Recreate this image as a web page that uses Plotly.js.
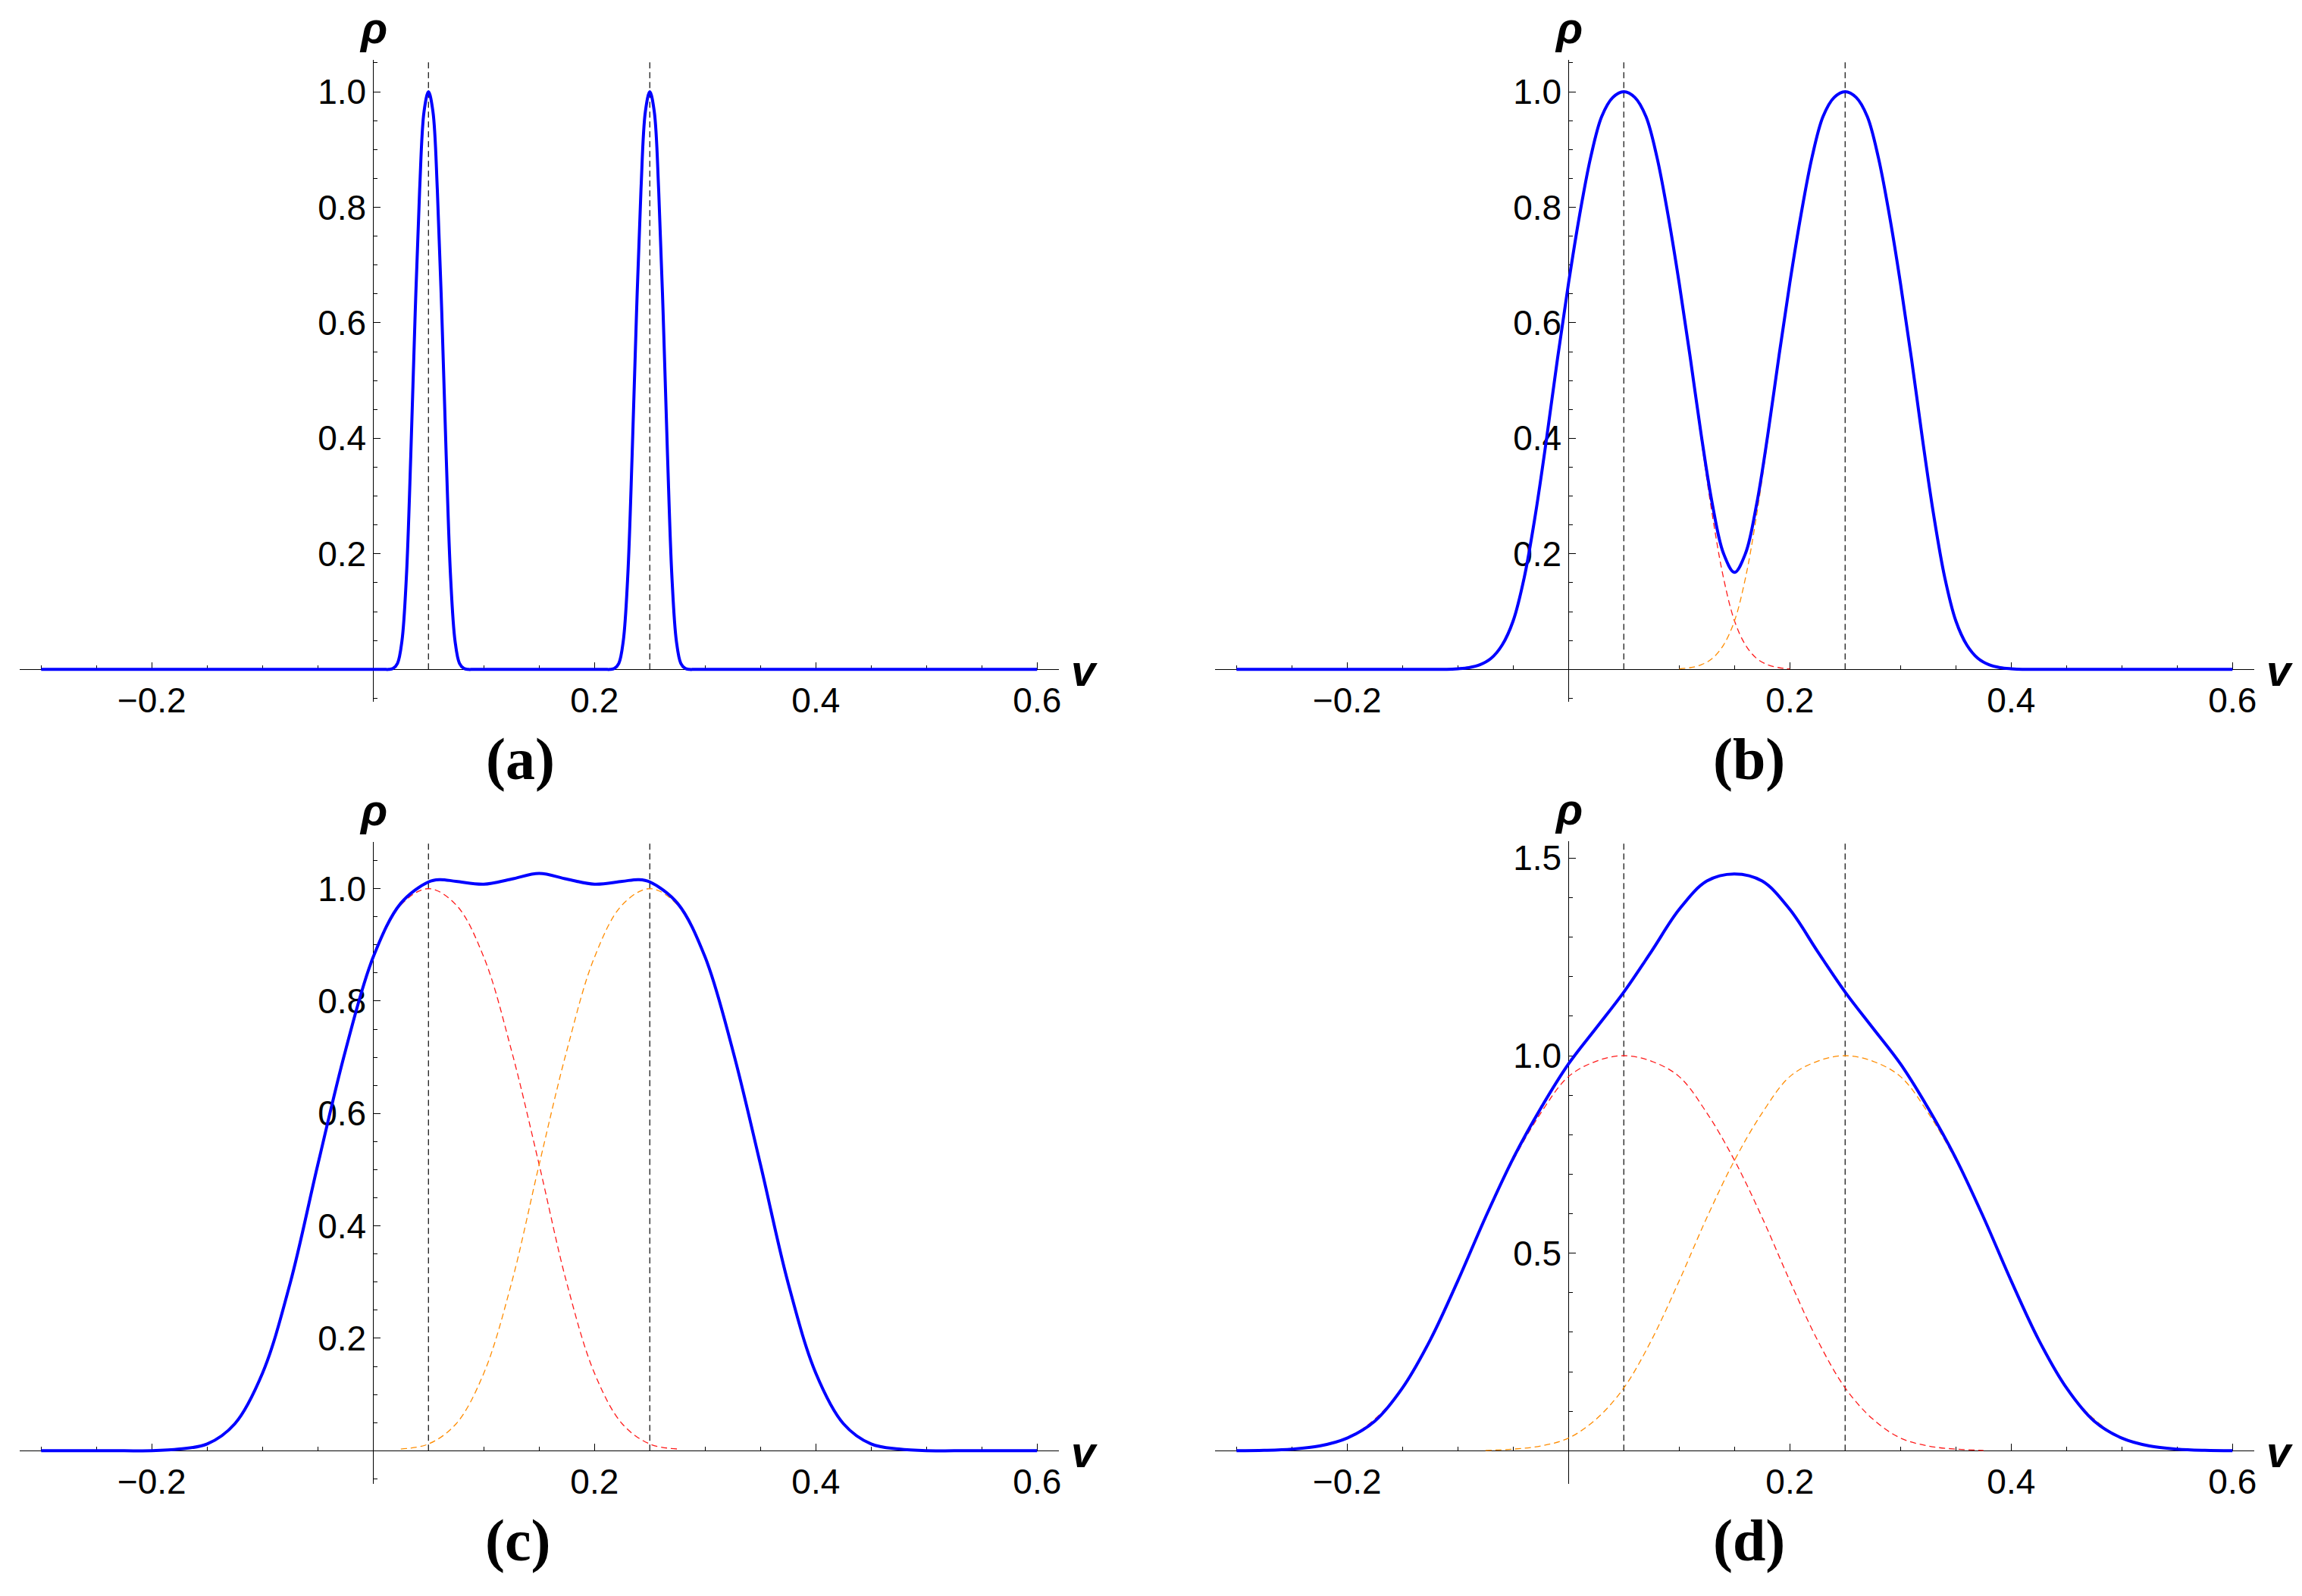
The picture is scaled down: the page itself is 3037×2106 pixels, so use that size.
<!DOCTYPE html>
<html>
<head>
<meta charset="utf-8">
<script src="https://cdn.plot.ly/plotly-3.0.1.min.js"></script>
<style>html,body{margin:0;padding:0;background:#fff;}#chart{width:3037px;height:2106px;}</style>
</head>
<body>
<div id="chart"></div>
<script>
// ---------------- data ----------------
const centers = [0.05, 0.25];
const panelLabels = ["(a)", "(b)", "(c)", "(d)"];
const xTickVals = [-0.2, 0.2, 0.4, 0.6];
const xTickText = ["\u22120.2", "0.2", "0.4", "0.6"];
const xMinorVals = [-0.3, -0.25, -0.15, -0.1, -0.05, 0.05, 0.1, 0.15, 0.25, 0.3, 0.35, 0.45, 0.5, 0.55];
const yTickVals = [0.2, 0.4, 0.6, 0.8, 1.0];
const yTickText = ["0.2", "0.4", "0.6", "0.8", "1.0"];
const yMinorVals = [-0.05, 0.05, 0.1, 0.15, 0.25, 0.3, 0.35, 0.45, 0.5, 0.55, 0.65, 0.7, 0.75, 0.85, 0.9, 0.95, 1.05];
const yTickValsD = [0.5, 1.0, 1.5];
const yTickTextD = ["0.5", "1.0", "1.5"];
const yMinorValsD = [0.1, 0.2, 0.3, 0.4, 0.6, 0.7, 0.8, 0.9, 1.1, 1.2, 1.3, 1.4];

// panel (a): total density
const xA = [-0.3, -0.2, -0.1, -0.05, 0.0, 0.01, 0.014, 0.018, 0.022, 0.026, 0.03, 0.034, 0.038, 0.042, 0.046, 0.05, 0.054, 0.058, 0.062, 0.066, 0.07, 0.074, 0.078, 0.082, 0.086, 0.09, 0.1, 0.125, 0.15, 0.175, 0.2, 0.21, 0.214, 0.218, 0.222, 0.226, 0.23, 0.234, 0.238, 0.242, 0.246, 0.25, 0.254, 0.258, 0.262, 0.266, 0.27, 0.274, 0.278, 0.282, 0.286, 0.29, 0.3, 0.35, 0.4, 0.5, 0.6];
const yA = [0, 0, 0, 0, 0, 0, 0, 0.0016, 0.0104, 0.049, 0.159, 0.37, 0.618, 0.83, 0.966, 1.0, 0.966, 0.83, 0.618, 0.37, 0.159, 0.049, 0.0104, 0.0016, 0, 0, 0, 0, 0, 0, 0, 0, 0, 0.0016, 0.0104, 0.049, 0.159, 0.37, 0.618, 0.83, 0.966, 1.0, 0.966, 0.83, 0.618, 0.37, 0.159, 0.049, 0.0104, 0.0016, 0, 0, 0, 0, 0, 0, 0];

// panel (b)
const xB = [-0.3, -0.2, -0.15, -0.12, -0.11, -0.1, -0.09, -0.08, -0.07, -0.06, -0.05, -0.04, -0.03, -0.02, -0.01, 0.0, 0.01, 0.02, 0.03, 0.04, 0.05, 0.06, 0.07, 0.08, 0.09, 0.1, 0.11, 0.12, 0.13, 0.14, 0.15, 0.16, 0.17, 0.18, 0.19, 0.2, 0.21, 0.22, 0.23, 0.24, 0.25, 0.26, 0.27, 0.28, 0.29, 0.3, 0.31, 0.32, 0.33, 0.34, 0.35, 0.36, 0.37, 0.38, 0.39, 0.4, 0.41, 0.42, 0.45, 0.5, 0.6];
const yB = [0, 0, 0, 0, 0, 0.001, 0.003, 0.008, 0.019, 0.042, 0.084, 0.159, 0.267, 0.397, 0.537, 0.668, 0.786, 0.886, 0.957, 0.99, 1.0, 0.99, 0.957, 0.886, 0.786, 0.669, 0.54, 0.405, 0.286, 0.201, 0.168, 0.201, 0.286, 0.405, 0.54, 0.669, 0.786, 0.886, 0.957, 0.99, 1.0, 0.99, 0.957, 0.886, 0.786, 0.668, 0.537, 0.397, 0.267, 0.159, 0.084, 0.042, 0.019, 0.008, 0.003, 0.001, 0, 0, 0, 0, 0];
const xRedB = [-0.1, -0.09, -0.08, -0.07, -0.06, -0.05, -0.04, -0.03, -0.02, -0.01, 0.0, 0.01, 0.02, 0.03, 0.04, 0.05, 0.06, 0.07, 0.08, 0.09, 0.1, 0.11, 0.12, 0.13, 0.14, 0.15, 0.16, 0.17, 0.18, 0.19, 0.2];
const yRedB = [0.001, 0.003, 0.008, 0.019, 0.042, 0.084, 0.159, 0.267, 0.397, 0.537, 0.668, 0.786, 0.886, 0.957, 0.99, 1.0, 0.99, 0.957, 0.886, 0.786, 0.668, 0.537, 0.397, 0.267, 0.159, 0.084, 0.042, 0.019, 0.008, 0.003, 0.001];
const xOrangeB = [0.1, 0.11, 0.12, 0.13, 0.14, 0.15, 0.16, 0.17, 0.18, 0.19, 0.2, 0.21, 0.22, 0.23, 0.24, 0.25, 0.26, 0.27, 0.28, 0.29, 0.3, 0.31, 0.32, 0.33, 0.34, 0.35, 0.36, 0.37, 0.38, 0.39, 0.4];
const yOrangeB = [0.001, 0.003, 0.008, 0.019, 0.042, 0.084, 0.159, 0.267, 0.397, 0.537, 0.668, 0.786, 0.886, 0.957, 0.99, 1.0, 0.99, 0.957, 0.886, 0.786, 0.668, 0.537, 0.397, 0.267, 0.159, 0.084, 0.042, 0.019, 0.008, 0.003, 0.001];

// panel (c)
const xC = [-0.3, -0.25, -0.225, -0.2, -0.175, -0.15, -0.125, -0.1, -0.075, -0.05, -0.025, 0.0, 0.025, 0.05, 0.06, 0.075, 0.1, 0.125, 0.15, 0.175, 0.2, 0.225, 0.24, 0.25, 0.275, 0.3, 0.325, 0.35, 0.375, 0.4, 0.425, 0.45, 0.475, 0.5, 0.525, 0.55, 0.6];
const yC = [0, 0, 0, 0, 0.003, 0.012, 0.048, 0.138, 0.298, 0.509, 0.712, 0.878, 0.974, 1.012, 1.016, 1.013, 1.008, 1.017, 1.027, 1.017, 1.008, 1.013, 1.016, 1.012, 0.974, 0.878, 0.712, 0.509, 0.298, 0.138, 0.048, 0.012, 0.003, 0, 0, 0, 0];
const xRedC = [-0.175, -0.15, -0.125, -0.1, -0.075, -0.05, -0.025, 0.0, 0.025, 0.05, 0.075, 0.1, 0.125, 0.15, 0.175, 0.2, 0.225, 0.25, 0.275];
const yRedC = [0.003, 0.012, 0.048, 0.138, 0.298, 0.509, 0.712, 0.878, 0.971, 1.0, 0.971, 0.878, 0.712, 0.509, 0.298, 0.138, 0.048, 0.012, 0.003];
const xOrangeC = [0.025, 0.05, 0.075, 0.1, 0.125, 0.15, 0.175, 0.2, 0.225, 0.25, 0.275, 0.3, 0.325, 0.35, 0.375, 0.4, 0.425, 0.45, 0.475];
const yOrangeC = [0.003, 0.012, 0.048, 0.138, 0.298, 0.509, 0.712, 0.878, 0.971, 1.0, 0.971, 0.878, 0.712, 0.509, 0.298, 0.138, 0.048, 0.012, 0.003];

// panel (d)
const xD = [-0.3, -0.275, -0.25, -0.225, -0.2, -0.175, -0.15, -0.125, -0.1, -0.075, -0.05, -0.025, 0.0, 0.025, 0.05, 0.075, 0.1, 0.125, 0.15, 0.175, 0.2, 0.225, 0.25, 0.275, 0.3, 0.325, 0.35, 0.375, 0.4, 0.425, 0.45, 0.475, 0.5, 0.525, 0.55, 0.575, 0.6];
const yD = [0, 0.001, 0.004, 0.012, 0.032, 0.075, 0.159, 0.28, 0.43, 0.591, 0.74, 0.867, 0.979, 1.07, 1.161, 1.264, 1.37, 1.442, 1.46, 1.442, 1.37, 1.264, 1.161, 1.07, 0.979, 0.867, 0.74, 0.591, 0.43, 0.28, 0.159, 0.075, 0.032, 0.012, 0.004, 0.001, 0];
const xRedD = [-0.275, -0.25, -0.225, -0.2, -0.175, -0.15, -0.125, -0.1, -0.075, -0.05, -0.025, 0.0, 0.025, 0.05, 0.075, 0.1, 0.125, 0.15, 0.175, 0.2, 0.225, 0.25, 0.275, 0.3, 0.325, 0.35, 0.375];
const yRedD = [0.001, 0.004, 0.012, 0.032, 0.08, 0.159, 0.28, 0.43, 0.59, 0.735, 0.855, 0.947, 0.986, 1.0, 0.986, 0.947, 0.855, 0.735, 0.59, 0.43, 0.28, 0.159, 0.08, 0.032, 0.012, 0.004, 0.001];
const xOrangeD = [-0.075, -0.05, -0.025, 0.0, 0.025, 0.05, 0.075, 0.1, 0.125, 0.15, 0.175, 0.2, 0.225, 0.25, 0.275, 0.3, 0.325, 0.35, 0.375, 0.4, 0.425, 0.45, 0.475, 0.5, 0.525, 0.55, 0.575];
const yOrangeD = [0.001, 0.004, 0.012, 0.032, 0.08, 0.159, 0.28, 0.43, 0.59, 0.735, 0.855, 0.947, 0.986, 1.0, 0.986, 0.947, 0.855, 0.735, 0.59, 0.43, 0.28, 0.159, 0.08, 0.032, 0.012, 0.004, 0.001];

// ---------------- layout geometry (pixels of the 3037x2106 canvas) ----------------
const W = 3037, H = 2106;
const SANS = "Liberation Sans, Arial, Helvetica, sans-serif";
const SERIF = "Liberation Serif, Times New Roman, serif";
const BLUE = "#0000ff", RED = "#ff1a1a", ORANGE = "#ff8c00", VLINE = "#2a2a2a";

const panels = [
  {L: 26, R: 1396.7, ox: 492.3, T: 79.3, B: 925.7, oy: 883.3, ky: 762.3, d: false, labX: 686, labY: 1001},
  {L: 1603, R: 2973.7, ox: 2069.3, T: 79.3, B: 925.7, oy: 883.3, ky: 762.3, d: false, labX: 2307, labY: 1001},
  {L: 26, R: 1396.7, ox: 492.3, T: 1111, B: 1957.7, oy: 1914.3, ky: 741.7, d: false, labX: 683, labY: 2032},
  {L: 1603, R: 2973.7, ox: 2069.3, T: 1110, B: 1957.7, oy: 1914.3, ky: 521.3, d: true, labX: 2307, labY: 2032}
];
const kx = 1460;

const layout = {
  width: W, height: H,
  margin: {l: 0, r: 0, t: 0, b: 0, pad: 0},
  paper_bgcolor: "#fff", plot_bgcolor: "rgba(0,0,0,0)",
  showlegend: false,
  annotations: [],
  font: {family: SANS, color: "#000"}
};

panels.forEach((p, i) => {
  const n = i === 0 ? "" : String(i + 1);
  const xr = [(p.L - p.ox) / kx, (p.R - p.ox) / kx];
  const yr = [-(p.B - p.oy) / p.ky, (p.oy - p.T) / p.ky];
  p.yr = yr;
  layout["xaxis" + n] = {
    domain: [p.L / W, p.R / W], range: xr, anchor: "free", position: (H - p.oy) / H,
    showline: true, linecolor: "#000", linewidth: 1, showgrid: false, zeroline: false,
    ticks: "inside", ticklen: 9, tickwidth: 1, tickcolor: "#000",
    tickmode: "array", tickvals: xTickVals, ticktext: xTickText,
    minor: {tickmode: "array", tickvals: xMinorVals, ticks: "inside", ticklen: 5, tickwidth: 1, tickcolor: "#000", showgrid: false},
    tickfont: {family: SANS, size: 46, color: "#000"}, layer: "below traces", fixedrange: true
  };
  layout["yaxis" + n] = {
    domain: [(H - p.B) / H, (H - p.T) / H], range: yr, anchor: "free", position: p.ox / W,
    showline: true, linecolor: "#000", linewidth: 1, showgrid: false, zeroline: false,
    ticks: "inside", ticklen: 9, tickwidth: 1, tickcolor: "#000",
    tickmode: "array", tickvals: p.d ? yTickValsD : yTickVals, ticktext: p.d ? yTickTextD : yTickText,
    minor: {tickmode: "array", tickvals: p.d ? yMinorValsD : yMinorVals, ticks: "inside", ticklen: 5, tickwidth: 1, tickcolor: "#000", showgrid: false},
    tickfont: {family: SANS, size: 46, color: "#000"}, layer: "below traces", fixedrange: true
  };
  layout.annotations.push(
    {text: "<b><i>\u03c1</i></b>", xref: "paper", yref: "paper", x: p.ox / W, y: (H - (p.T - 8)) / H,
     xanchor: "center", yanchor: "bottom", showarrow: false, font: {family: SANS, size: 58, color: "#000"}},
    {text: "<b><i>v</i></b>", xref: "paper", yref: "paper", x: (p.R + 14) / W, y: (H - (p.oy + 1)) / H,
     xanchor: "left", yanchor: "middle", showarrow: false, font: {family: SANS, size: 58, color: "#000"}},
    {text: "<b>" + panelLabels[i] + "</b>", xref: "paper", yref: "paper", x: p.labX / W, y: (H - p.labY) / H,
     xanchor: "center", yanchor: "middle", showarrow: false, font: {family: SERIF, size: 78, color: "#000"}}
  );
});

const series = [
  {x: xA, y: yA, comps: []},
  {x: xB, y: yB, comps: [[xRedB, yRedB, RED], [xOrangeB, yOrangeB, ORANGE]]},
  {x: xC, y: yC, comps: [[xRedC, yRedC, RED], [xOrangeC, yOrangeC, ORANGE]]},
  {x: xD, y: yD, comps: [[xRedD, yRedD, RED], [xOrangeD, yOrangeD, ORANGE]]}
];

const traces = [];
series.forEach((s, i) => {
  const xa = "x" + (i === 0 ? "" : i + 1), ya = "y" + (i === 0 ? "" : i + 1);
  const top = panels[i].yr[1];
  centers.forEach(c => {
    traces.push({x: [c, c], y: [0, top], xaxis: xa, yaxis: ya, mode: "lines", hoverinfo: "skip",
      line: {color: VLINE, width: 1.4, dash: "8px,5px"}});
  });
  s.comps.forEach(cp => {
    traces.push({x: cp[0], y: cp[1], xaxis: xa, yaxis: ya, mode: "lines", hoverinfo: "skip",
      line: {color: cp[2], width: 1.3, dash: "8px,5px", shape: "spline", smoothing: 1}});
  });
  traces.push({x: s.x, y: s.y, xaxis: xa, yaxis: ya, mode: "lines", hoverinfo: "skip",
    line: {color: BLUE, width: 4, shape: "spline", smoothing: 1}});
});

Plotly.newPlot("chart", traces, layout, {displayModeBar: false, staticPlot: true});
</script>
</body>
</html>
